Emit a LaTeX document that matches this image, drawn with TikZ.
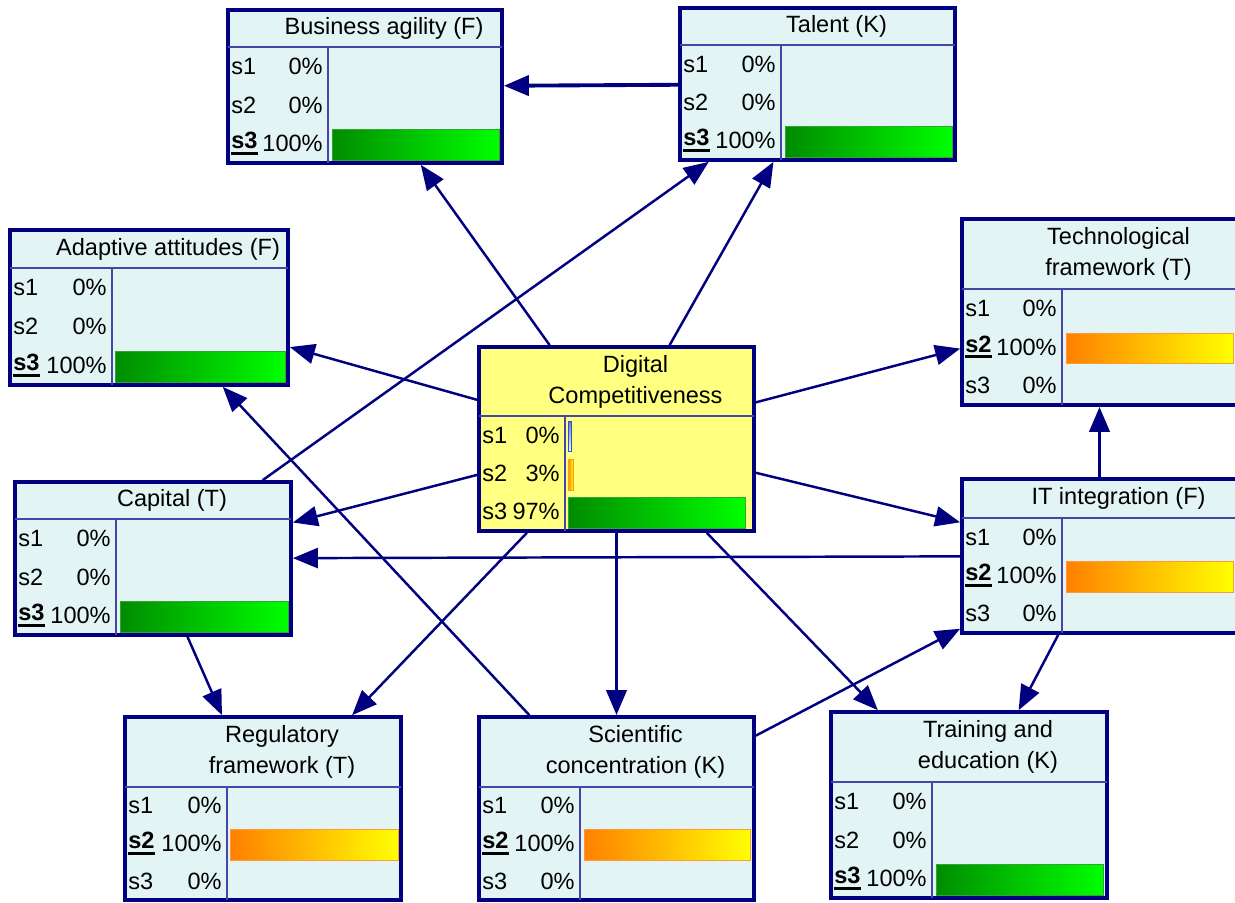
\documentclass[tikz,border=0pt]{standalone}
\usepackage{fontspec}
\setmainfont{Liberation Sans}
\usetikzlibrary{calc}
\usetikzlibrary{positioning}
\usetikzlibrary{fit}
\usetikzlibrary{arrows.meta}

\definecolor{netnavy}{RGB}{0,0,128}
\definecolor{boxfill}{RGB}{227,244,245}
\definecolor{dcfill}{RGB}{255,255,128}
\definecolor{divblue}{RGB}{70,70,170}
\definecolor{darkgreen}{RGB}{0,140,0}
\definecolor{lightgreen}{RGB}{0,255,0}
\definecolor{barorange}{RGB}{255,128,0}
\definecolor{baryellow}{RGB}{255,255,0}
\definecolor{barblue}{RGB}{30,80,255}

\tikzset{
  bnbox/.style={rectangle, inner sep=0pt, draw=netnavy, line width=2.1pt, fill=boxfill},
  divline/.style={draw=divblue, line width=0.6pt},
  titletext/.style={align=center, inner sep=0pt, font=\fontsize{13.4}{17.6}\selectfont},
  celltext/.style={inner sep=0pt, font=\fontsize{13.4}{16}\selectfont},
  greenbar/.style={left color=darkgreen, right color=lightgreen, draw=darkgreen!80, line width=0.4pt},
  orangebar/.style={left color=barorange, right color=baryellow, draw=barorange!80, line width=0.4pt},
  bluebar/.style={fill=barblue, draw=barblue, line width=0.3pt},
  edge/.style={draw=netnavy, line width=1.4pt, -{Triangle[length=0.5cm, width=0.4cm]}},
  boldedge/.style={edge, line width=2.2pt}
}

% selected state: bold with a thick underline
\newcommand{\sel}[1]{{\setbox0\hbox{\bfseries #1}\rlap{\rule[-3.5pt]{\wd0}{1.6pt}}\box0}}
% box: [style] name, left, top, right, bottom, title rule, split, title
\newcommand{\bnnode}[9][]{
  \node[bnbox, #1, fit={(#3,#4) (#5,#6)}] (#2) {};
  \draw[divline] (#3,#7) -- (#5,#7);
  \draw[divline] (#8,#7) -- (#8,#6);
  \node[titletext] at ({(#3+#5)/2+19},{(#4+#7)/2}) {#9};
}
% rows: left, split, title rule, bottom, list of state/percent
\newcommand{\bnrows}[5]{
  \foreach \lab/\pct [count=\k] in {#5} {
    \node[celltext, anchor=west] at ({#1+3},{#3+(#4-#3)*(2*\k-1)/6}) {\lab};
    \node[celltext, anchor=east] at ({#2-5},{#3+(#4-#3)*(2*\k-1)/6}) {\pct};
  }
}
% bar: style, from, to, title rule, bottom, row
\newcommand{\bnbar}[6]{
  \shadedraw[#1] (#2,{#4+(#5-#4)*(2*#6-1)/6-14}) rectangle (#3,{#4+(#5-#4)*(2*#6-1)/6+16.5});
}

\begin{document}
\begin{tikzpicture}[x=0.02cm, y=-0.02cm]
  \useasboundingbox (0,0) rectangle (1235,903);

  \bnnode{ba}{228}{10}{502}{163}{47}{328}{Business agility (F)}
  \bnrows{228}{328}{47}{163}{s1/0\%, s2/0\%, \sel{s3}/100\%}
  \bnbar{greenbar}{332}{499}{47}{163}{3}

  \bnnode{talent}{680}{8}{955}{160}{45}{781}{Talent (K)}
  \bnrows{680}{781}{45}{160}{s1/0\%, s2/0\%, \sel{s3}/100\%}
  \bnbar{greenbar}{785}{952}{45}{160}{3}

  \bnnode{adapt}{10}{230}{288}{385}{268}{112}{Adaptive attitudes (F)}
  \bnrows{10}{112}{268}{385}{s1/0\%, s2/0\%, \sel{s3}/100\%}
  \bnbar{greenbar}{115}{285}{268}{385}{3}

  \bnnode{tech}{962}{219}{1237}{405}{289}{1062}{Technological\\framework (T)}
  \bnrows{962}{1062}{289}{405}{s1/0\%, \sel{s2}/100\%, s3/0\%}
  \bnbar{orangebar}{1066}{1233}{289}{405}{2}

  \bnnode[fill=dcfill]{dc}{479}{347}{754}{531}{416}{565}{Digital\\Competitiveness}
  \bnrows{479}{565}{416}{531}{s1/0\%, s2/3\%, s3/97\%}
  \bnbar{bluebar}{568}{571}{416}{531}{1}
  \bnbar{orangebar}{568}{573}{416}{531}{2}
  \bnbar{greenbar}{568}{745}{416}{531}{3}

  \bnnode{capital}{15}{482}{291}{635}{519}{116}{Capital (T)}
  \bnrows{15}{116}{519}{635}{s1/0\%, s2/0\%, \sel{s3}/100\%}
  \bnbar{greenbar}{120}{288}{519}{635}{3}

  \bnnode{it}{962}{479}{1237}{633}{518}{1062}{IT integration (F)}
  \bnrows{962}{1062}{518}{633}{s1/0\%, \sel{s2}/100\%, s3/0\%}
  \bnbar{orangebar}{1066}{1233}{518}{633}{2}

  \bnnode{reg}{125}{717}{401}{900}{787}{227}{Regulatory\\framework (T)}
  \bnrows{125}{227}{787}{900}{s1/0\%, \sel{s2}/100\%, s3/0\%}
  \bnbar{orangebar}{230}{398}{787}{900}{2}

  \bnnode{sci}{479}{717}{754}{900}{787}{580}{Scientific\\concentration (K)}
  \bnrows{479}{580}{787}{900}{s1/0\%, \sel{s2}/100\%, s3/0\%}
  \bnbar{orangebar}{584}{750}{787}{900}{2}

  \bnnode{train}{831}{712}{1107}{898}{782}{932}{Training and\\education (K)}
  \bnrows{831}{932}{782}{898}{s1/0\%, s2/0\%, \sel{s3}/100\%}
  \bnbar{greenbar}{936}{1103}{782}{898}{3}

  \draw[boldedge] (talent) -- (ba);
  \draw[edge] (dc) -- (ba);
  \draw[edge] (dc) -- (talent);
  \draw[edge] (capital) -- (talent);
  \draw[edge] (dc) -- (adapt);
  \draw[edge] (sci) -- (adapt);
  \draw[edge] (dc) -- (tech);
  \draw[boldedge] (it) -- (tech);
  \draw[edge] (dc) -- (capital);
  \draw[edge] (it) -- (capital);
  \draw[edge] (dc) -- (it);
  \draw[edge] (capital) -- (reg);
  \draw[edge] (dc) -- (reg);
  \draw[boldedge] (dc) -- (sci);
  \draw[edge] (dc) -- (train);
  \draw[edge] (sci) -- (it);
  \draw[edge] (it) -- (train);
\end{tikzpicture}
\end{document}
